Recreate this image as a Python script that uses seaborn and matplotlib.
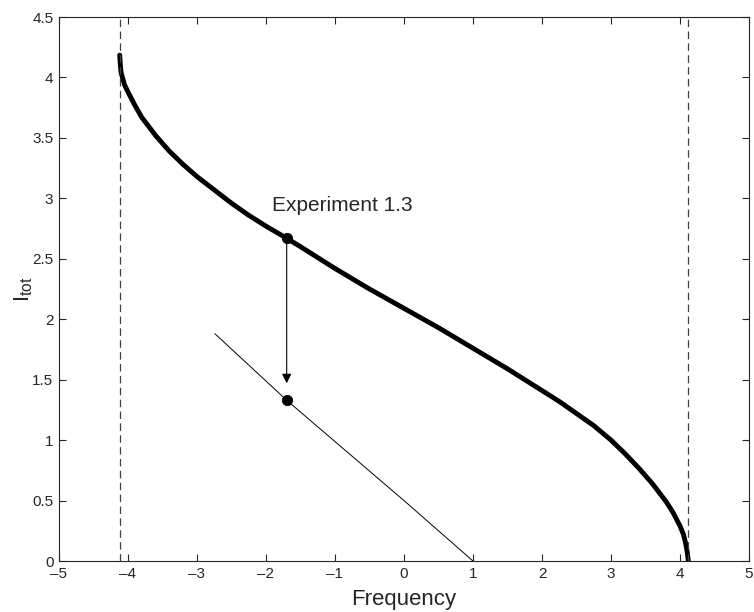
import numpy as np
import pandas as pd
import seaborn as sns
import matplotlib
matplotlib.use("Agg")
import matplotlib.pyplot as plt

# thick curve: total intensity vs frequency
freq = [-4.12, -4.11, -4.10, -4.08, -4.05, -4.00, -3.90, -3.80, -3.60, -3.40,
        -3.20, -3.00, -2.75, -2.50, -2.25, -2.00, -1.70, -1.50, -1.00, -0.50,
        0.00, 0.50, 1.00, 1.50, 2.00, 2.25, 2.50, 2.75, 3.00, 3.20,
        3.40, 3.60, 3.80, 3.90, 4.00, 4.05, 4.08, 4.10, 4.11, 4.12]
itot = [4.185, 4.10, 4.04, 4.00, 3.94, 3.88, 3.77, 3.67, 3.52, 3.39,
        3.28, 3.18, 3.07, 2.96, 2.86, 2.77, 2.67, 2.60, 2.42, 2.25,
        2.09, 1.93, 1.76, 1.59, 1.41, 1.32, 1.22, 1.12, 1.00, 0.89,
        0.77, 0.64, 0.49, 0.40, 0.29, 0.22, 0.15, 0.09, 0.05, 0.00]

# thin line after the experiment
freq2 = [-2.74, -1.70, 0.00, 1.00]
itot2 = [1.88, 1.33, 0.50, 0.00]

# experiment points (before / after)
exp_x = [-1.70, -1.70]
exp_y = [2.67, 1.33]

limit = 4.12
xticks = [-5, -4, -3, -2, -1, 0, 1, 2, 3, 4, 5]
yticks = [0, 0.5, 1, 1.5, 2, 2.5, 3, 3.5, 4, 4.5]
ylabels = ["0", "0.5", "1", "1.5", "2", "2.5", "3", "3.5", "4", "4.5"]

sns.set_style("ticks")
plt.rcParams["font.family"] = ["Liberation Sans", "DejaVu Sans"]
plt.rcParams["mathtext.default"] = "regular"

fig = plt.figure(figsize=(7.54, 6.12), dpi=100)
ax = fig.add_axes([0.0782, 0.0833, 0.9152, 0.8889])

df1 = pd.DataFrame({"f": freq, "i": itot})
df2 = pd.DataFrame({"f": freq2, "i": itot2})
sns.lineplot(data=df1, x="f", y="i", color="black", linewidth=3.5,
             estimator=None, sort=False, ax=ax)
sns.lineplot(data=df2, x="f", y="i", color="black", linewidth=0.7,
             estimator=None, sort=False, ax=ax)

for xv in (-limit, limit):
    ax.axvline(xv, color="#404040", linewidth=0.9, dashes=(6, 3.5))

ax.annotate("", xy=(exp_x[1], 1.47), xytext=(exp_x[0], exp_y[0]),
            arrowprops=dict(arrowstyle="-|>", color="black", lw=0.8,
                            mutation_scale=14, shrinkA=0, shrinkB=0))
sns.scatterplot(x=exp_x, y=exp_y, color="black", s=55, edgecolor="black",
                zorder=5, ax=ax)
ax.text(-1.91, 2.94, "Experiment 1.3", fontsize=15, va="center", ha="left")

ax.set_xlim(-5, 5)
ax.set_ylim(0, 4.5)
ax.set_xticks(xticks)
ax.set_xticklabels(["\u2013" + str(-t) if t < 0 else str(t) for t in xticks])
ax.set_yticks(yticks)
ax.set_yticklabels(ylabels)
ax.tick_params(direction="in", length=5, width=0.8, labelsize=11,
               top=True, right=True, pad=4)
for s in ax.spines.values():
    s.set_linewidth(0.8)
    s.set_visible(True)

ax.set_xlabel("Frequency", fontsize=16, labelpad=6)
ax.set_ylabel("$I_{tot}$", fontsize=16, labelpad=-2)

fig.savefig("out.png", dpi=100)
